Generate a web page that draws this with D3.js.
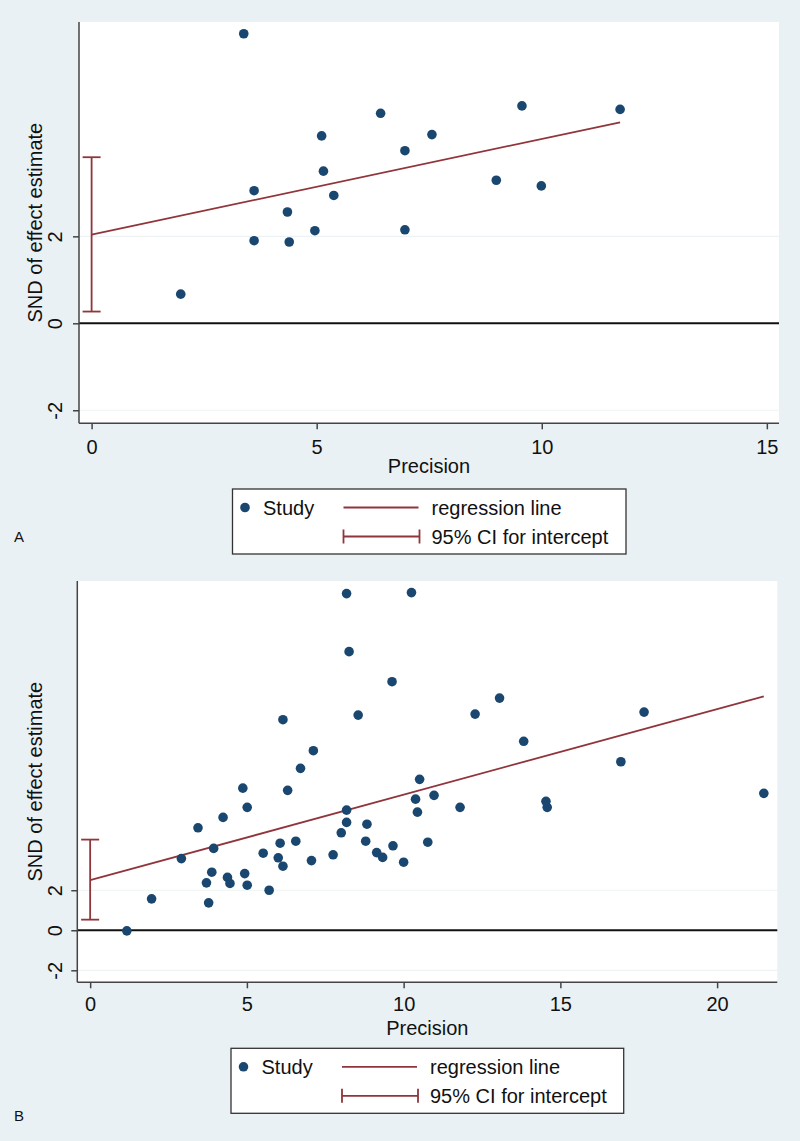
<!DOCTYPE html>
<html>
<head>
<meta charset="utf-8">
<script src="https://cdn.jsdelivr.net/npm/d3@7"></script>
<style>
  html, body { margin: 0; padding: 0; background: #eaf1f4; }
  svg { display: block; }
  text { font-family: "Liberation Sans", Arial, sans-serif; fill: #111; }
</style>
</head>
<body>
<svg id="chart" width="800" height="1141"></svg>
<script>
// ---------- Data ----------
const panelLabels = ["A", "B"];
const xTicksA = [0, 5, 10, 15];
const xTicksB = [0, 5, 10, 15, 20];
const yTicks = [-2, 0, 2];
const legendLabels = ["Study", "regression line", "95% CI for intercept"];
const xTitle = "Precision";
const yTitle = "SND of effect estimate";

// Panel A studies
const precisionA = [3.38, 6.42, 9.56, 11.74, 5.11, 7.56, 6.96, 5.15, 8.99, 9.99, 3.61, 5.38, 4.35, 4.96, 3.61, 4.39, 6.96, 1.98];
const sndA       = [6.66, 4.83, 5.00, 4.92, 4.31, 4.34, 3.97, 3.50, 3.29, 3.16, 3.05, 2.94, 2.56, 2.13, 1.90, 1.87, 2.15, 0.67];
const regA = { intercept: 2.04, slope: 0.22 };
const ciA = [0.27, 3.82];

// Panel B studies
const precisionB = [8.18, 10.25, 8.26, 9.63, 13.06, 12.28, 17.67, 8.55, 6.15, 13.83, 7.12, 16.93, 6.71, 10.51, 4.87, 6.30, 21.49, 10.97, 10.38, 14.54, 5.01, 11.80, 14.58, 8.18, 10.44, 4.24, 8.18, 8.83, 3.44, 8.01, 8.79, 6.56, 6.06, 10.77, 9.66, 3.94, 9.14, 5.52, 7.75, 9.33, 6.00, 2.91, 7.06, 10.00, 6.15, 3.88, 4.93, 4.38, 3.71, 4.46, 5.01, 5.71, 1.96, 3.78, 1.17];
const sndB       = [16.82, 16.87, 13.92, 12.42, 11.60, 10.80, 10.90, 10.75, 10.52, 9.44, 8.97, 8.42, 8.09, 7.54, 7.10, 6.99, 6.84, 6.74, 6.55, 6.44, 6.14, 6.14, 6.14, 6.00, 5.90, 5.64, 5.39, 5.30, 5.12, 4.87, 4.45, 4.45, 4.35, 4.40, 4.22, 4.09, 3.88, 3.85, 3.77, 3.64, 3.62, 3.58, 3.48, 3.40, 3.20, 2.90, 2.83, 2.64, 2.37, 2.34, 2.25, 2.00, 1.57, 1.37, -0.03];
const regB = { intercept: 2.5, slope: 0.4275 };
const ciB = [0.53, 4.53];

// ---------- Style ----------
const navy = "#1a476f";
const maroon = "#90353b";
const axisColor = "#444";
const gridColor = "#edf3f5";
const fmt = d => String(d);

const svg = d3.select("#chart");

function drawPanel(cfg) {
  const g = svg.append("g");
  const x = d3.scaleLinear().domain(cfg.xDomain).range([cfg.left, cfg.right]);
  const y = d3.scaleLinear().domain(cfg.yDomain).range([cfg.bottom, cfg.top]);

  // plot region
  g.append("rect")
    .attr("x", cfg.left).attr("y", cfg.top)
    .attr("width", cfg.right - cfg.left).attr("height", cfg.bottom - cfg.top)
    .attr("fill", "#ffffff");

  // gridlines
  g.selectAll(".grid").data(yTicks.filter(d => d !== 0)).join("line")
    .attr("x1", cfg.left).attr("x2", cfg.right)
    .attr("y1", d => y(d)).attr("y2", d => y(d))
    .attr("stroke", gridColor).attr("stroke-width", 1.2);

  // zero line
  g.append("line")
    .attr("x1", cfg.left).attr("x2", cfg.right)
    .attr("y1", y(0)).attr("y2", y(0))
    .attr("stroke", "#111").attr("stroke-width", 2);

  // axes
  const xAxis = d3.axisBottom(x).tickValues(cfg.xTicks).tickSize(6).tickFormat(fmt);
  const xg = g.append("g").attr("transform", `translate(0,${cfg.bottom})`).call(xAxis);
  xg.select(".domain").attr("stroke", axisColor).attr("stroke-width", 1.5)
    .attr("d", `M${cfg.left},0H${cfg.right}`);
  xg.selectAll(".tick line").attr("stroke", axisColor).attr("stroke-width", 1.5);
  xg.selectAll(".tick text").attr("font-size", 20).attr("fill", "#111")
    .attr("y", cfg.xTickBaseline - cfg.bottom).attr("dy", 0)
    .style("font-family", "'Liberation Sans', Arial, sans-serif");

  const yAxis = d3.axisLeft(y).tickValues(yTicks).tickSize(6).tickFormat(fmt);
  const yg = g.append("g").attr("transform", `translate(${cfg.left},0)`).call(yAxis);
  yg.select(".domain").attr("stroke", axisColor).attr("stroke-width", 1.5)
    .attr("d", `M0,${cfg.top}V${cfg.bottom}`);
  yg.selectAll(".tick line").attr("stroke", axisColor).attr("stroke-width", 1.5);
  yg.selectAll(".tick text").remove();
  yg.selectAll(".tick").append("text")
    .attr("transform", `translate(${62 - cfg.left},0) rotate(-90)`)
    .attr("text-anchor", "middle")
    .attr("font-size", 20)
    .attr("fill", "#111")
    .style("font-family", "'Liberation Sans', Arial, sans-serif")
    .text(fmt);

  // axis titles
  g.append("text")
    .attr("x", (cfg.left + cfg.right) / 2).attr("y", cfg.xTitleBaseline)
    .attr("text-anchor", "middle").attr("font-size", 20)
    .text(xTitle);
  g.append("text")
    .attr("transform", `translate(42,${(cfg.top + cfg.bottom) / 2}) rotate(-90)`)
    .attr("text-anchor", "middle").attr("font-size", 20)
    .text(yTitle);

  // CI for intercept
  const ciHalf = 9;
  const ciG = g.append("g").attr("stroke", maroon).attr("stroke-width", 1.8).attr("fill", "none");
  ciG.append("line").attr("x1", x(0)).attr("x2", x(0)).attr("y1", y(cfg.ci[0])).attr("y2", y(cfg.ci[1]));
  cfg.ci.forEach(v => {
    ciG.append("line").attr("x1", x(0) - ciHalf).attr("x2", x(0) + ciHalf).attr("y1", y(v)).attr("y2", y(v));
  });

  // regression line
  const xMax = d3.max(cfg.xs);
  g.append("line")
    .attr("x1", x(0)).attr("y1", y(cfg.reg.intercept))
    .attr("x2", x(xMax)).attr("y2", y(cfg.reg.intercept + cfg.reg.slope * xMax))
    .attr("stroke", maroon).attr("stroke-width", 1.8);

  // points
  const pts = cfg.xs.map((v, i) => ({ x: v, y: cfg.ys[i] }));
  g.selectAll(".pt").data(pts).join("circle")
    .attr("cx", d => x(d.x)).attr("cy", d => y(d.y))
    .attr("r", 4.8).attr("fill", navy);

  // legend
  const L = cfg.legend;
  g.append("rect")
    .attr("x", L.x).attr("y", L.y).attr("width", L.w).attr("height", L.h)
    .attr("fill", "#ffffff").attr("stroke", "#333").attr("stroke-width", 1.3);
  const r1 = L.y + 18.5, r2 = L.y + 47.5;
  g.append("circle").attr("cx", L.x + 12.5).attr("cy", r1).attr("r", 4.8).attr("fill", navy);
  g.append("text").attr("x", L.x + 30.5).attr("y", r1 + 7).attr("font-size", 20).text(legendLabels[0]);
  g.append("line").attr("x1", L.x + 111).attr("x2", L.x + 186).attr("y1", r1).attr("y2", r1)
    .attr("stroke", maroon).attr("stroke-width", 1.8);
  g.append("text").attr("x", L.x + 199).attr("y", r1 + 7).attr("font-size", 20).text(legendLabels[1]);
  const lg = g.append("g").attr("stroke", maroon).attr("stroke-width", 1.8);
  lg.append("line").attr("x1", L.x + 111).attr("x2", L.x + 187).attr("y1", r2).attr("y2", r2);
  lg.append("line").attr("x1", L.x + 111).attr("x2", L.x + 111).attr("y1", r2 - 7).attr("y2", r2 + 7);
  lg.append("line").attr("x1", L.x + 187).attr("x2", L.x + 187).attr("y1", r2 - 7).attr("y2", r2 + 7);
  g.append("text").attr("x", L.x + 199).attr("y", r2 + 7).attr("font-size", 20).text(legendLabels[2]);

  // panel label
  g.append("text").attr("x", 14).attr("y", cfg.labelY).attr("font-size", 15).text(cfg.label);
}

drawPanel({
  label: panelLabels[0], labelY: 542,
  left: 79, right: 779, top: 22, bottom: 423.3,
  xDomain: [-0.28, 15.27], yDomain: [-2.3, 6.93],
  xTicks: xTicksA, xTickBaseline: 454, xTitleBaseline: 473,
  xs: precisionA, ys: sndA, reg: regA, ci: ciA,
  legend: { x: 232.5, y: 489, w: 393.5, h: 65 }
});

drawPanel({
  label: panelLabels[1], labelY: 1121,
  left: 77.3, right: 777.3, top: 581, bottom: 982.3,
  xDomain: [-0.41, 21.92], yDomain: [-2.6, 17.45],
  xTicks: xTicksB, xTickBaseline: 1011.5, xTitleBaseline: 1035,
  xs: precisionB, ys: sndB, reg: regB, ci: ciB,
  legend: { x: 231, y: 1048.3, w: 392.7, h: 65 }
});
</script>
</body>
</html>
